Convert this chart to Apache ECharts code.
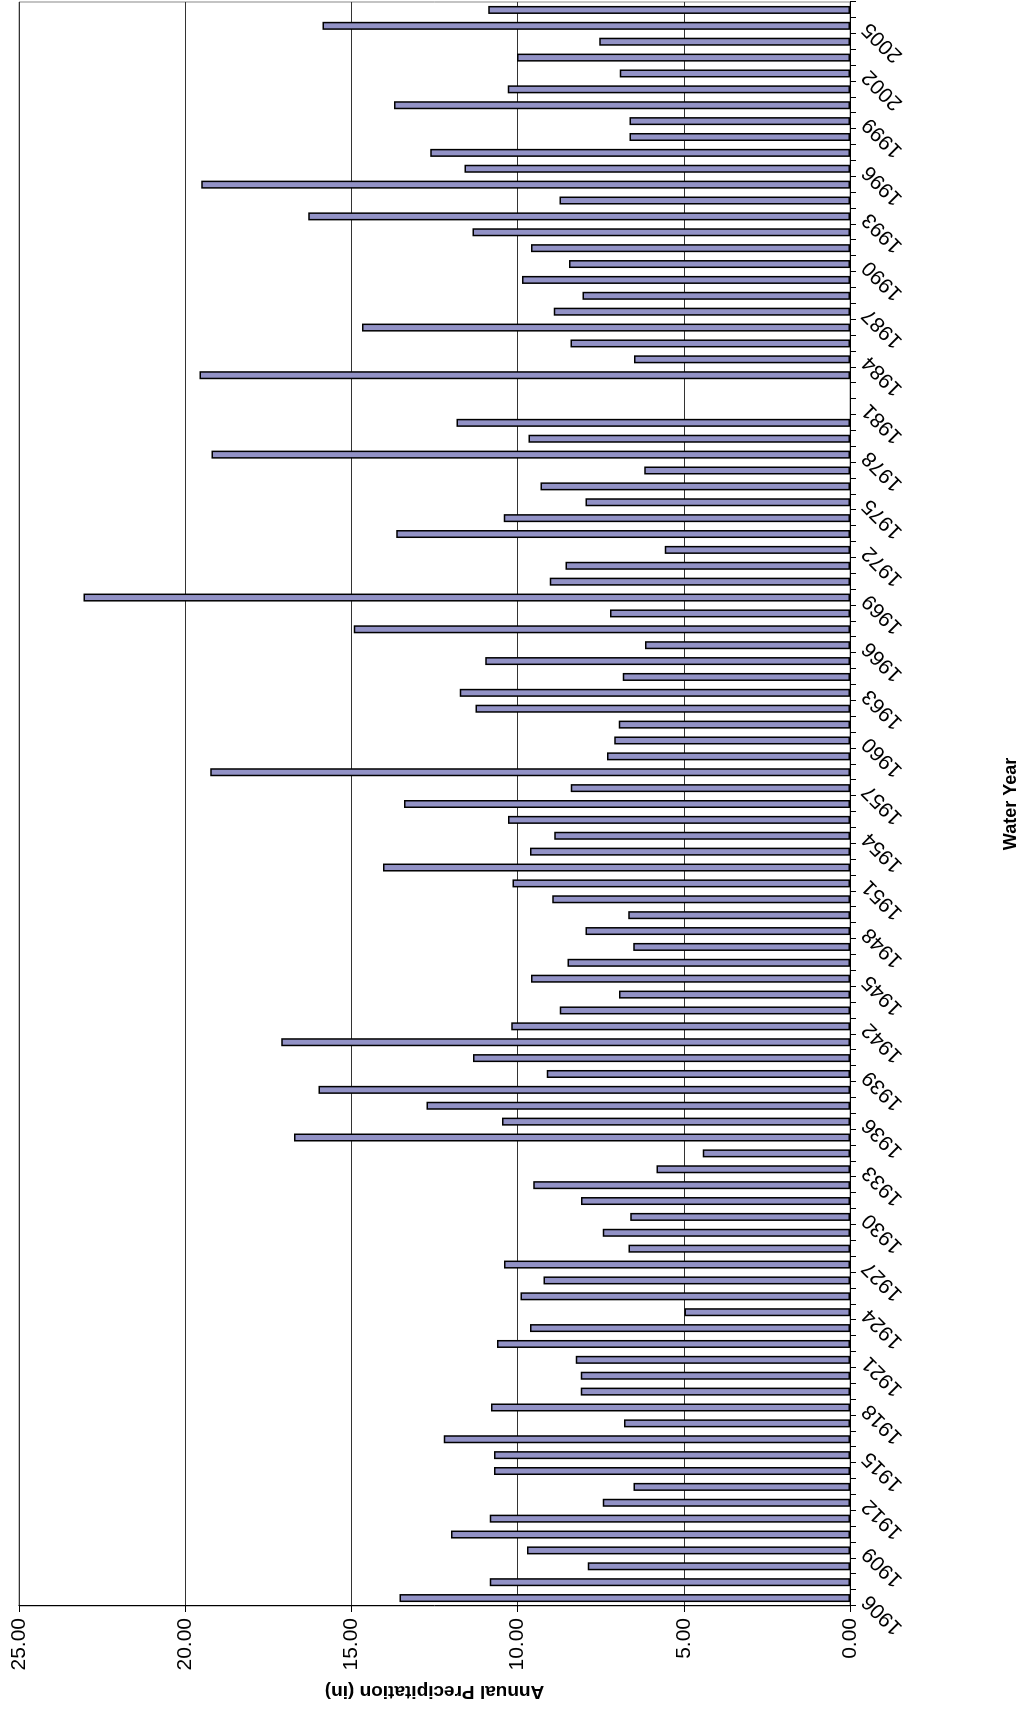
<!DOCTYPE html>
<html><head><meta charset="utf-8">
<script src="https://cdn.jsdelivr.net/npm/echarts@6/dist/echarts.min.js"></script>
<style>
html,body{margin:0;padding:0;background:#fff;overflow:hidden;width:1025px;height:1715px;}
#c{position:absolute;left:0;top:0;width:1715px;height:1025px;transform-origin:0 0;transform:translateY(1715px) rotate(-90deg);}
</style></head><body>
<div id="c"></div>
<script>
const years = [];
for (let y = 1906; y <= 2006; y++) years.push(String(y));
const precip1906_1941 = [13.55,10.84,7.89,9.72,12.0,10.84,7.44,6.51,10.71,10.71,12.22,6.8,10.8,8.1,8.1,8.25,10.62,9.63,4.98,9.91,9.22,10.41,6.66,7.44,6.61,8.09,9.53,5.82,4.43,16.73,10.47,12.74,15.99,9.12,11.34,17.11];
const precip1942_1958 = [10.19,8.73,6.95,9.6,8.5,6.52,7.96,6.67,8.96,10.15,14.05,9.63,8.9,10.29,13.42,8.4,19.25];
const precip1959_1980 = [7.31,7.09,6.96,11.27,11.74,6.84,10.97,6.17,14.93,7.22,23.06,9.03,8.56,5.57,13.65,10.42,7.96,9.31,6.19,19.21,9.67,11.84];
const precip1981_1982 = [null,null];
const precip1983_2006 = [19.57,6.5,8.41,14.68,8.91,8.05,9.87,8.45,9.6,11.36,16.3,8.74,19.52,11.6,12.63,6.63,6.63,13.72,10.3,6.93,10.02,7.54,15.87,10.88];
const values = [].concat(precip1906_1941, precip1942_1958, precip1959_1980, precip1981_1982, precip1983_2006);
const font = 'Liberation Sans, Arial, sans-serif';
const chart = echarts.init(document.getElementById('c'));
chart.setOption({
  animation:false,
  grid:{left:109,right:2,top:19,bottom:171,show:true,borderColor:'#888',borderWidth:1},
  xAxis:{type:'category',data:years,
    name:'Water Year',nameLocation:'middle',nameGap:152,
    nameTextStyle:{fontFamily:font,fontSize:18,fontWeight:'bold',color:'#000'},
    axisLine:{lineStyle:{color:'#000',width:1}},
    axisTick:{show:true,interval:0,length:6,lineStyle:{color:'#000'}},
    axisLabel:{interval:2,rotate:45,fontFamily:font,fontSize:21,color:'#000',margin:16}},
  yAxis:{type:'value',min:0,max:25,interval:5,
    name:'Annual Precipitation (in)',nameLocation:'middle',nameGap:46,
    nameTextStyle:{fontFamily:font,fontSize:19,fontWeight:'bold',color:'#000'},
    axisLine:{show:true,lineStyle:{color:'#000'}},
    axisTick:{show:true,length:6,lineStyle:{color:'#000'}},
    splitLine:{lineStyle:{color:'#333',width:1}},
    axisLabel:{fontFamily:font,fontSize:21,color:'#000',margin:12,formatter:v=>v.toFixed(2)}},
  series:[{type:'bar',data:values,barWidth:8,
    itemStyle:{color:'#9292c6',borderColor:'#000',borderWidth:1.5}}]
});
</script></body></html>
